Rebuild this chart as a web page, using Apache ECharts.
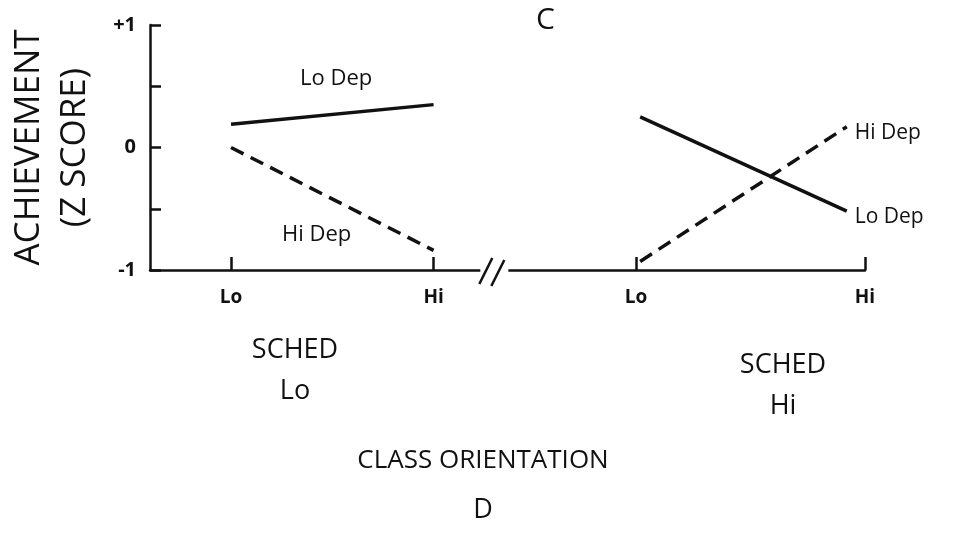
<!DOCTYPE html>
<html>
<head>
<meta charset="utf-8">
<script src="https://cdn.jsdelivr.net/npm/echarts@6/dist/echarts.min.js"></script>
<style>
  html, body { margin: 0; padding: 0; background: #fff; }
  #chart { width: 954px; height: 540px; }
</style>
</head>
<body>
<div id="chart"></div>
<script>
// class orientation positions on the x axis (Sched Lo panel, then Sched Hi panel)
const tickValues = [1, 2, 3, 4.13];
const tickNames = ['Lo', 'Hi', 'Lo', 'Hi'];
const leftX = [1, 2];
const rightX = [3.02, 4.04];
// achievement z scores
const schedLoLoDep = [0.19, 0.35];
const schedLoHiDep = [0.0, -0.84];
const schedHiLoDep = [0.25, -0.52];
const schedHiHiDep = [-0.93, 0.17];
const breakAt = 2.3;

const font = '"Open Sans", "DejaVu Sans", sans-serif';
const ink = '#111';

function pairs(xs, ys) {
    return xs.map((x, i) => [x, ys[i]]);
}

const myChart = echarts.init(document.getElementById('chart'));

const lineBase = {
    type: 'line',
    symbol: 'none',
    silent: true,
    animation: false
};

const option = {
    backgroundColor: '#fff',
    textStyle: { fontFamily: font, color: ink },
    grid: { left: 150, right: 89, top: 25, bottom: 270, outerBoundsMode: 'none', containLabel: false },
    xAxis: {
        type: 'value',
        min: 0.6,
        max: 4.13,
        splitLine: { show: false },
        axisLine: { show: true, onZero: false, lineStyle: { color: ink, width: 2.5 } },
        axisTick: {
            show: true, inside: true, length: 13,
            customValues: tickValues,
            lineStyle: { color: ink, width: 2.5 }
        },
        axisLabel: {
            customValues: tickValues,
            margin: 18,
            fontSize: 19,
            fontWeight: 'bold',
            color: ink,
            fontFamily: font,
            formatter: v => tickNames[tickValues.indexOf(v)] || ''
        }
    },
    yAxis: {
        type: 'value',
        min: -1,
        max: 1,
        interval: 0.5,
        splitLine: { show: false },
        axisLine: { show: true, lineStyle: { color: ink, width: 2.5 } },
        axisTick: { show: true, inside: true, length: 11, lineStyle: { color: ink, width: 2.5 } },
        axisLabel: {
            margin: 14,
            fontSize: 20,
            fontWeight: 'bold',
            color: ink,
            fontFamily: font,
            formatter: v => v === 1 ? '+1' : v === 0 ? '0' : v === -1 ? '-1' : ''
        },
        name: 'ACHIEVEMENT\n(Z SCORE)',
        nameLocation: 'middle',
        nameRotate: 90,
        nameGap: 52,
        nameTextStyle: { fontSize: 35, lineHeight: 46, color: ink, fontFamily: font }
    },
    title: [
        { text: 'C', left: 531, top: 0, textStyle: { fontSize: 30, fontWeight: 'normal', color: ink, fontFamily: font } },
        { text: 'SCHED', left: 290, top: 332, textAlign: 'center', textStyle: { fontSize: 27, fontWeight: 'normal', color: ink, fontFamily: font } },
        { text: 'Lo', left: 290, top: 373, textAlign: 'center', textStyle: { fontSize: 27, fontWeight: 'normal', color: ink, fontFamily: font } },
        { text: 'SCHED', left: 778, top: 347, textAlign: 'center', textStyle: { fontSize: 27, fontWeight: 'normal', color: ink, fontFamily: font } },
        { text: 'Hi', left: 778, top: 388, textAlign: 'center', textStyle: { fontSize: 27, fontWeight: 'normal', color: ink, fontFamily: font } },
        { text: 'CLASS ORIENTATION', left: 478, top: 443, textAlign: 'center', textStyle: { fontSize: 26, fontWeight: 'normal', color: ink, fontFamily: font } },
        { text: 'D', left: 478, top: 492, textAlign: 'center', textStyle: { fontSize: 27, fontWeight: 'normal', color: ink, fontFamily: font } }
    ],
    graphic: [
        { type: 'text', left: 300, top: 68, style: { text: 'Lo Dep', fontSize: 22, fontFamily: font, fill: ink } },
        { type: 'text', left: 282, top: 224, style: { text: 'Hi Dep', fontSize: 22, fontFamily: font, fill: ink } }
    ],
    series: [
        Object.assign({}, lineBase, {
            name: 'Lo Dep (Sched Lo)',
            data: pairs(leftX, schedLoLoDep),
            lineStyle: { color: ink, width: 3.5 }
        }),
        Object.assign({}, lineBase, {
            name: 'Hi Dep (Sched Lo)',
            data: pairs(leftX, schedLoHiDep),
            lineStyle: { color: ink, width: 3.5, type: [14, 8] }
        }),
        Object.assign({}, lineBase, {
            name: 'Lo Dep (Sched Hi)',
            data: pairs(rightX, schedHiLoDep),
            lineStyle: { color: ink, width: 3.5 },
            endLabel: { show: true, formatter: 'Lo Dep', fontSize: 21, color: ink, fontFamily: font, distance: 8, offset: [0, 6] }
        }),
        Object.assign({}, lineBase, {
            name: 'Hi Dep (Sched Hi)',
            data: pairs(rightX, schedHiHiDep),
            lineStyle: { color: ink, width: 3.5, type: [14, 8] },
            endLabel: { show: true, formatter: 'Hi Dep', fontSize: 21, color: ink, fontFamily: font, distance: 8, offset: [0, 6] }
        }),
        {
            // axis break mark "//"
            type: 'custom',
            silent: true,
            animation: false,
            data: [[breakAt, -1]],
            renderItem: function (params, api) {
                const p = api.coord([api.value(0), api.value(1)]);
                return {
                    type: 'group',
                    children: [
                        { type: 'rect', shape: { x: p[0] - 14, y: p[1] - 4, width: 28, height: 8 }, style: { fill: '#fff' } },
                        { type: 'line', shape: { x1: p[0] - 15, y1: p[1] + 14, x2: p[0] - 2, y2: p[1] - 12 }, style: { stroke: ink, lineWidth: 2.5 } },
                        { type: 'line', shape: { x1: p[0] - 3, y1: p[1] + 16, x2: p[0] + 10, y2: p[1] - 10 }, style: { stroke: ink, lineWidth: 2.5 } }
                    ]
                };
            }
        }
    ]
};

myChart.setOption(option);
</script>
</body>
</html>
